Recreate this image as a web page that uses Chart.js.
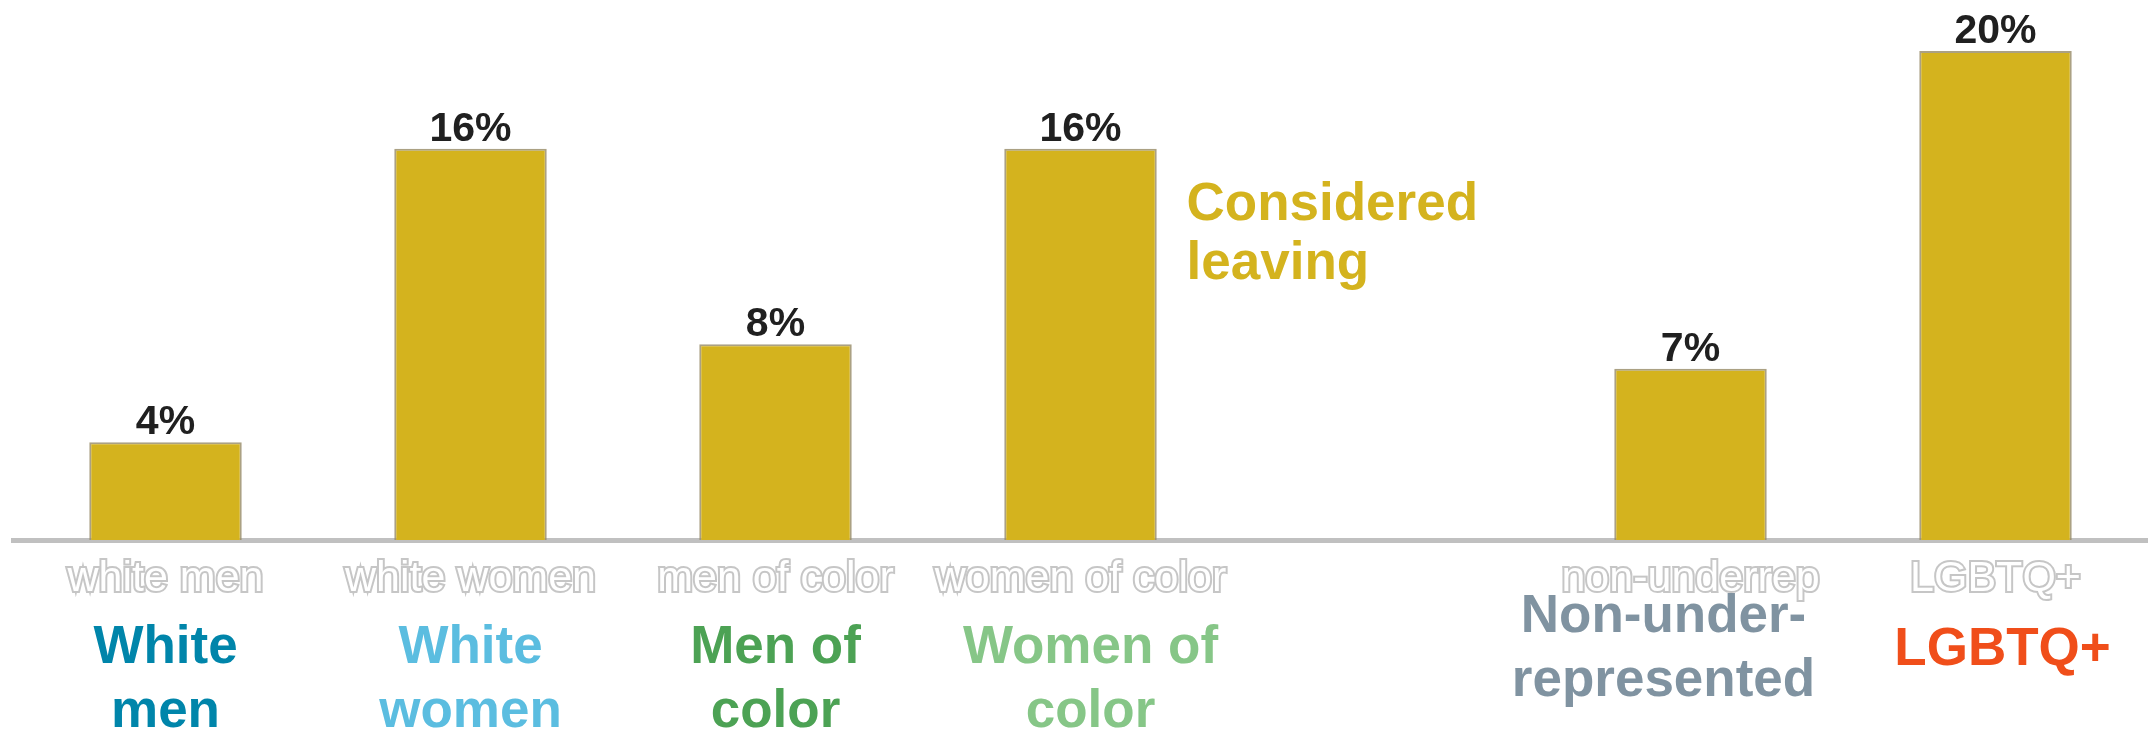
<!DOCTYPE html>
<html lang="en">
<head>
<meta charset="utf-8">
<title>Considered leaving</title>
<script src="https://cdn.jsdelivr.net/npm/chart.js@4.4.1/dist/chart.umd.min.js"></script>
<style>
    html, body { margin: 0; padding: 0; background: #ffffff; }
    #wrap { position: relative; width: 2148px; height: 731px; }
</style>
</head>
<body>
<div id="wrap"><canvas id="leavingChart"></canvas></div>
<script>
// Share of each group who considered leaving (%), one empty slot as a spacer
const categories = ['white men', 'white women', 'men of color', 'women of color', '', 'non-underrep', 'LGBTQ+'];
const consideredLeaving = [4, 16, 8, 16, null, 7, 20];
const groupNames = [
    ['White', 'men'],
    ['White', 'women'],
    ['Men of', 'color'],
    ['Women of', 'color'],
    [],
    ['Non-under-', 'represented'],
    ['LGBTQ+']
];
const groupColors = ['#0085aa', '#5bbde0', '#4ca254', '#86c687', '#ffffff', '#8093a1', '#f04e1a'];
const seriesCaption = ['Considered', 'leaving'];

const FONT = '"Liberation Sans", Arial, sans-serif';
const GOLD = '#d4b31e';

// Group name placement: horizontal nudge and first baseline below the axis line
const nameNudgeX = [0, 0, 0, 10, 0, -27, 7];
const nameBaseline = [123, 123, 123, 123, 0, 92, 125];

/**
 * Percentage above each bar
 */
const valueLabels = {
    id: 'valueLabels',
    afterDatasetsDraw(chart) {
        const { ctx } = chart;
        const meta = chart.getDatasetMeta(0);

        ctx.save();
        ctx.font = `bold 41px ${FONT}`;
        ctx.fillStyle = '#202020';
        ctx.filter = 'blur(0.6px)';
        ctx.textAlign = 'center';
        ctx.textBaseline = 'alphabetic';
        meta.data.forEach((bar, i) => {
            const value = consideredLeaving[i];
            if (value === null) return;
            ctx.fillText(value + '%', bar.x, bar.y - 8);
        });
        ctx.restore();
    }
};

/**
 * Coloured group names under the axis, plus the series caption
 */
const groupNameLabels = {
    id: 'groupNameLabels',
    afterDraw(chart) {
        const { ctx, chartArea } = chart;
        const xScale = chart.scales.x;
        const yScale = chart.scales.y;

        ctx.save();
        ctx.font = `bold 53px ${FONT}`;
        ctx.textAlign = 'center';
        ctx.textBaseline = 'alphabetic';
        groupNames.forEach((lines, i) => {
            const cx = xScale.getPixelForValue(i) + nameNudgeX[i];
            ctx.fillStyle = groupColors[i];
            lines.forEach((line, j) => {
                ctx.fillText(line, cx, chartArea.bottom + nameBaseline[i] + j * 64);
            });
        });

        // Caption to the right of the "women of color" bar
        ctx.textAlign = 'left';
        ctx.fillStyle = GOLD;
        const capX = xScale.getPixelForValue(3) + 106;
        const capY = yScale.getPixelForValue(13.1);
        seriesCaption.forEach((line, j) => {
            ctx.fillText(line, capX, capY + j * 59);
        });
        ctx.restore();
    }
};

/**
 * Initialize the bar chart
 * @param {string} canvasId - Canvas element ID
 */
function initLeavingChart(canvasId) {
    const canvas = document.getElementById(canvasId);
    if (!canvas) {
        console.error(`Canvas element with id "${canvasId}" not found`);
        return null;
    }

    return new Chart(canvas.getContext('2d'), {
        type: 'bar',
        data: {
            labels: categories,
            datasets: [{
                label: 'Considered leaving',
                data: consideredLeaving,
                backgroundColor: GOLD,
                borderColor: 'rgba(150, 138, 100, 0.8)',
                borderWidth: 2,
                borderSkipped: 'bottom',
                barPercentage: 0.5,
                categoryPercentage: 1.0
            }]
        },
        options: {
            responsive: true,
            maintainAspectRatio: false,
            animation: false,
            layout: {
                padding: { top: 2, left: 13, right: 0, bottom: 0 }
            },
            plugins: {
                legend: { display: false },
                tooltip: { enabled: false }
            },
            scales: {
                x: {
                    grid: { display: false, drawTicks: false },
                    border: { display: true, color: '#c0c0c0', width: 5 },
                    ticks: {
                        color: '#ffffff',
                        textStrokeColor: '#c6c6c6',
                        textStrokeWidth: 4,
                        font: { family: FONT, size: 43 },
                        padding: 13,
                        autoSkip: false,
                        maxRotation: 0
                    },
                    afterFit(scale) {
                        scale.height = 191;
                    }
                },
                y: {
                    display: false,
                    min: 0,
                    max: 22
                }
            }
        },
        plugins: [valueLabels, groupNameLabels]
    });
}

initLeavingChart('leavingChart');
</script>
</body>
</html>
